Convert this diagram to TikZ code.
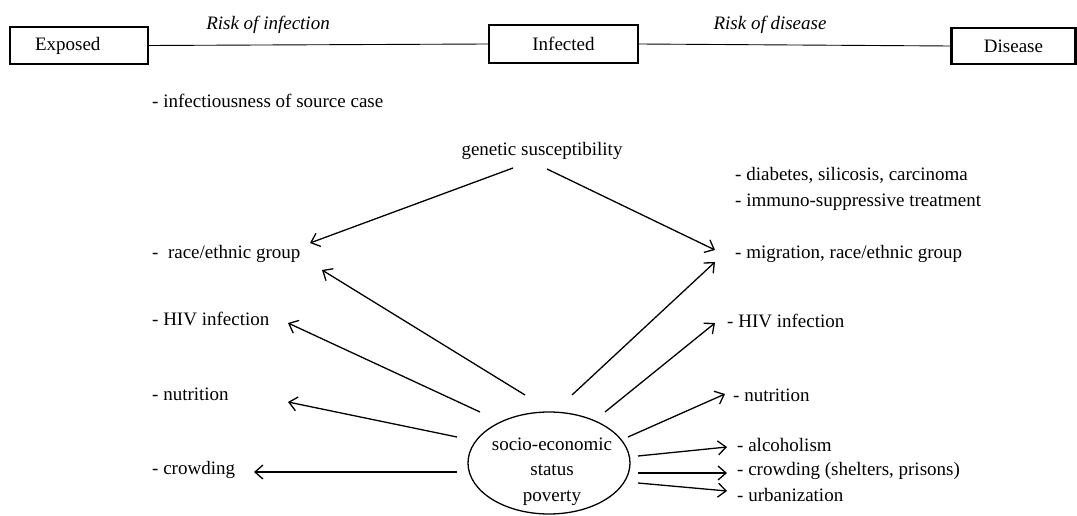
\documentclass[tikz,border=0pt]{standalone}
\usepackage{fontspec}
\setmainfont{Liberation Serif}
\usetikzlibrary{arrows.meta,shapes.geometric,calc}
\begin{document}
\begin{tikzpicture}[x=1pt,y=-1pt,
  txt/.style={font=\fontsize{19}{21}\selectfont, inner sep=0pt},
  lbl/.style={txt, anchor=base west},
  stagebox/.style={draw, line width=2.2pt, font=\fontsize{19}{21}\selectfont, minimum height=37pt, inner sep=0pt},
  link/.style={line width=0.9pt},
  arr/.style={line width=1.3pt, -{Straight Barb[length=8pt,width=14pt]}}
]
\useasboundingbox (0,0) rectangle (1077,516);

% top stages
\node[stagebox, text width=88pt, inner xsep=25pt, align=left, minimum height=37pt] (exp) at (79,45.5) {Exposed};
\node[stagebox, minimum width=149pt, minimum height=38pt] (inf) at (563.5,44) {Infected};
\node[stagebox, minimum width=124pt, minimum height=36pt] (dis) at (1013.5,46) {Disease};
\draw[link] (exp.east) -- (inf.west);
\draw[link] (inf.east) -- (dis.west);
\node[txt, anchor=base, font=\fontsize{19}{21}\selectfont\itshape] (rinf) at (268,30) {Risk of infection};
\node[txt, anchor=base, font=\fontsize{19}{21}\selectfont\itshape] (rdis) at (770,30) {Risk of disease};

\node[lbl] (src) at (152,108) {- infectiousness of source case};
\node[txt, anchor=base] (gen) at (542,156) {genetic susceptibility};

% left column
\node[lbl] (raceL) at (152,258) {-~ race/ethnic group};
\node[lbl] (hivL) at (152,325) {- HIV infection};
\node[lbl] (nutL) at (152,400) {- nutrition};
\node[lbl] (crowdL) at (152,474) {- crowding};

% right column
\node[lbl] (diab) at (735,181) {- diabetes, silicosis, carcinoma};
\node[lbl] (immu) at (735,207) {- immuno-suppressive treatment};
\node[lbl] (migr) at (735,258) {- migration, race/ethnic group};
\node[lbl] (hivR) at (727,327) {- HIV infection};
\node[lbl] (nutR) at (733,401) {- nutrition};
\node[lbl] (alc) at (737,451) {- alcoholism};
\node[lbl] (crowdR) at (737,475) {- crowding (shelters, prisons)};
\node[lbl] (urb) at (737,501) {- urbanization};

% socio-economic ellipse
\node[draw, ellipse, line width=1.3pt, minimum width=162pt, minimum height=102pt, inner sep=0pt] (ses) at (549,463) {};
\node[txt, anchor=base] (ses1) at (552,450) {socio-economic};
\node[txt, anchor=base] (ses2) at (552,475) {status};
\node[txt, anchor=base] (ses3) at (552,501) {poverty};

% arrow tips
\coordinate (tGenL) at (310,243);
\coordinate (tGenR) at (715,250);
\coordinate (tRaceL) at (322,270);
\coordinate (tHivL) at (288,323);
\coordinate (tNutL) at (288,402);
\coordinate (tCrowdL) at (254,472);
\coordinate (tMigr) at (715,262);
\coordinate (tHivR) at (715,323);
\coordinate (tNutR) at (725,394);
\coordinate (tAlc) at (727,447);
\coordinate (tCrowdR) at (727,473);
\coordinate (tUrb) at (727,491);

% genetic susceptibility arrows
\draw[arr] ([shift={(-29,12)}]gen.base) -- (tGenL);
\draw[arr] ([shift={(5,13)}]gen.base) -- (tGenR);

% socio-economic arrows
\draw[arr] ([shift={(-24,-68)}]ses.center) -- (tRaceL);
\draw[arr] ([shift={(-69,-51)}]ses.center) -- (tHivL);
\draw[arr] ([shift={(-92,-26)}]ses.center) -- (tNutL);
\draw[arr] ([shift={(-92,9)}]ses.center) -- (tCrowdL);
\draw[arr] ([shift={(23,-68)}]ses.center) -- (tMigr);
\draw[arr] ([shift={(56,-51)}]ses.center) -- (tHivR);
\draw[arr] ([shift={(79,-26)}]ses.center) -- (tNutR);
\draw[arr] ([shift={(89,-7)}]ses.center) -- (tAlc);
\draw[arr] ([shift={(89,10)}]ses.center) -- (tCrowdR);
\draw[arr] ([shift={(89,20)}]ses.center) -- (tUrb);
\end{tikzpicture}
\end{document}
